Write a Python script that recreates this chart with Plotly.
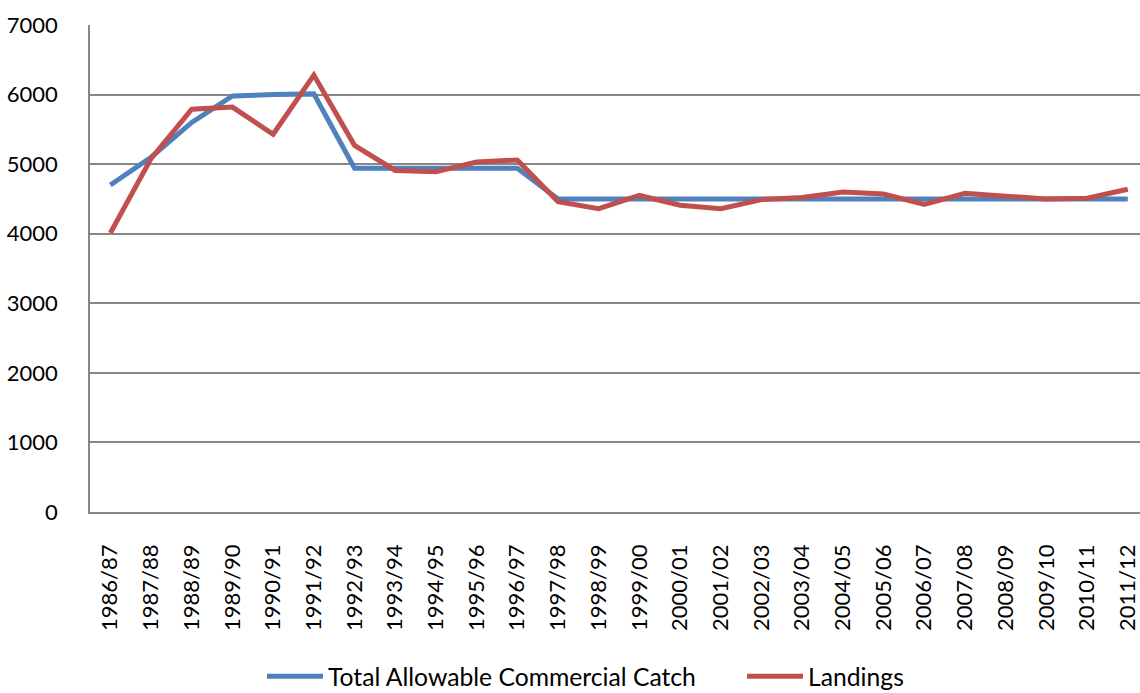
import plotly.graph_objects as go

seasons = [
    "1986/87", "1987/88", "1988/89", "1989/90", "1990/91", "1991/92", "1992/93",
    "1993/94", "1994/95", "1995/96", "1996/97", "1997/98", "1998/99", "1999/00",
    "2000/01", "2001/02", "2002/03", "2003/04", "2004/05", "2005/06", "2006/07",
    "2007/08", "2008/09", "2009/10", "2010/11", "2011/12",
]

tacc = [
    4700, 5100, 5600, 5980, 6000, 6010, 4940,
    4940, 4940, 4940, 4940, 4500, 4500, 4500,
    4500, 4500, 4500, 4500, 4500, 4500, 4500,
    4500, 4500, 4500, 4500, 4500,
]

landings = [
    4010, 5080, 5790, 5820, 5430, 6280, 5270,
    4910, 4890, 5030, 5060, 4460, 4360, 4550,
    4410, 4360, 4490, 4520, 4600, 4570, 4420,
    4580, 4540, 4500, 4510, 4640,
]

y_ticks = [0, 1000, 2000, 3000, 4000, 5000, 6000, 7000]

BLUE = "#4F81BD"
RED = "#C0504D"
GRID = "#878787"
FONT = "Lato, 'Open Sans', sans-serif"

fig = go.Figure()
fig.add_trace(go.Scatter(
    x=seasons, y=tacc, mode="lines", name="Total Allowable Commercial Catch",
    line=dict(color=BLUE, width=5), legend="legend",
))
fig.add_trace(go.Scatter(
    x=seasons, y=landings, mode="lines", name="Landings",
    line=dict(color=RED, width=5), legend="legend2",
))

legend_style = dict(
    orientation="h", xanchor="left", y=-0.338, yanchor="middle",
    font=dict(family=FONT, size=24.7, color="#000000"),
    bgcolor="rgba(0,0,0,0)", itemwidth=56,
)

fig.update_layout(
    width=1140, height=693,
    margin=dict(l=90, r=0, t=25, b=181, autoexpand=False),
    paper_bgcolor="white", plot_bgcolor="white",
    font=dict(family=FONT, size=22, color="#000000"),
    showlegend=True,
    legend=dict(x=0.1638, **legend_style),
    legend2=dict(x=0.621, **legend_style),
)

fig.update_xaxes(
    type="category", categoryorder="array", categoryarray=seasons,
    range=[-0.5, 25.3], tickangle=-90, showgrid=False,
    showline=True, linecolor=GRID, linewidth=1.5,
    ticks="", ticklabelstandoff=22, tickfont=dict(size=22),
    zeroline=False, fixedrange=True,
)
fig.update_yaxes(
    range=[0, 7000], tickvals=y_ticks, ticktext=[str(v) for v in y_ticks],
    showgrid=True, gridcolor=GRID, gridwidth=1.5,
    showline=True, linecolor=GRID, linewidth=1.5,
    ticks="", ticklabelstandoff=26, tickfont=dict(size=22),
    zeroline=False, fixedrange=True,
)

fig.write_html("out.html")
